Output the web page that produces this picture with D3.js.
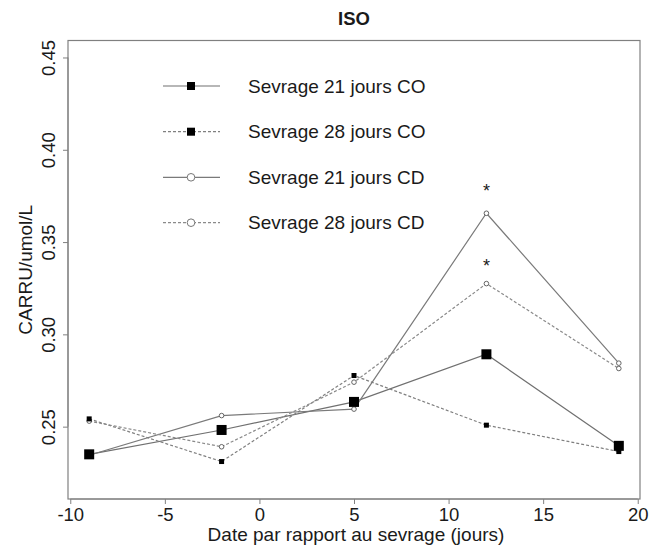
<!DOCTYPE html>
<html>
<head>
<meta charset="utf-8">
<script src="https://cdn.jsdelivr.net/npm/d3@7"></script>
<style>
  body { margin: 0; background: #fff; }
  svg text { font-family: "Liberation Sans", Arial, sans-serif; fill: #1a1a1a; }
</style>
</head>
<body>
<div id="content"></div>
<script>
var w = 658;
var h = 547;

// days relative to weaning
var days = [-9, -2, 5, 12, 19];

var s21CO = [0.2350, 0.2482, 0.2634, 0.2892, 0.2396];
var s28CO = [0.2542, 0.2311, 0.2777, 0.2508, 0.2365];
var s21CD = [0.2345, 0.2560, 0.2595, 0.3656, 0.2844];
var s28CD = [0.2530, 0.2391, 0.2741, 0.3275, 0.2815];

var seriesNames = ["Sevrage 21 jours CO", "Sevrage 28 jours CO", "Sevrage 21 jours CD", "Sevrage 28 jours CD"];

// significance stars at day 12
var starDays = [12, 12];
var starVals = [0.3797, 0.3394];

var xTicks = [-10, -5, 0, 5, 10, 15, 20];
var yTicks = [0.25, 0.30, 0.35, 0.40, 0.45];

var series = [
    { name: seriesNames[0], values: s21CO, dash: null, shape: "square", size: 10, lineColor: "#707070" },
    { name: seriesNames[1], values: s28CO, dash: "3,2", shape: "square", size: 5, lineColor: "#808080" },
    { name: seriesNames[2], values: s21CD, dash: null, shape: "circle", size: 2.3, lineColor: "#7a7a7a" },
    { name: seriesNames[3], values: s28CD, dash: "3,2", shape: "circle", size: 2.3, lineColor: "#8a8a8a" }
];

// R style: limits extended 4%
var x = d3.scaleLinear().domain([-10.12, 20.12]).range([68, 640]);
var y = d3.scaleLinear().domain([0.2108, 0.4592]).range([499, 40.5]);

var svg = d3.select("div#content").append("svg")
    .attr("width", w)
    .attr("height", h);

// box
svg.append("rect")
    .attr("x", x.range()[0]).attr("y", y.range()[1])
    .attr("width", x.range()[1] - x.range()[0])
    .attr("height", y.range()[0] - y.range()[1])
    .attr("fill", "none").attr("stroke", "#808080").attr("stroke-width", 1.2);

// axes
var xAxis = svg.append("g")
    .attr("transform", "translate(0," + y.range()[0] + ")")
    .call(d3.axisBottom(x).tickValues(xTicks).tickFormat(d => String(d)).tickSize(5).tickPadding(4).tickSizeOuter(0));
xAxis.select(".domain").attr("stroke", "#808080").attr("d", "M" + x(-10) + ",0H" + x(20));
xAxis.selectAll(".tick line").attr("stroke", "#808080");
xAxis.selectAll(".tick text").style("font-size", "18.5px").attr("fill", "#1a1a1a")
    .attr("font-family", "Liberation Sans, Arial, sans-serif");

var yAxis = svg.append("g")
    .attr("transform", "translate(" + x.range()[0] + ",0)")
    .call(d3.axisLeft(y).tickValues(yTicks).tickFormat(d3.format(".2f")).tickSize(5).tickSizeOuter(0));
yAxis.select(".domain").attr("stroke", "#808080").attr("d", "M0," + y(0.25) + "V" + y(0.45));
yAxis.selectAll(".tick line").attr("stroke", "#808080");
yAxis.selectAll(".tick text")
    .style("font-size", "18.5px").attr("fill", "#1a1a1a")
    .attr("font-family", "Liberation Sans, Arial, sans-serif")
    .attr("x", null).attr("dy", null)
    .attr("text-anchor", "middle")
    .attr("transform", "translate(-13,0) rotate(-90)");

// titles
svg.append("text")
    .attr("x", 354).attr("y", 25)
    .attr("text-anchor", "middle")
    .style("font-size", "18.5px").style("font-weight", "bold")
    .text("ISO");

svg.append("text")
    .attr("x", 356).attr("y", 541)
    .attr("text-anchor", "middle")
    .style("font-size", "19px")
    .text("Date par rapport au sevrage (jours)");

svg.append("text")
    .attr("transform", "translate(32," + ((y.range()[0] + y.range()[1]) / 2) + ") rotate(-90)")
    .attr("text-anchor", "middle")
    .style("font-size", "19px")
    .text("CARRU/umol/L");

// lines
var line = d3.line()
    .x((d, i) => x(days[i]))
    .y(d => y(d));

var g = svg.append("g");

series.forEach(function (s) {
    g.append("path")
        .datum(s.values)
        .attr("d", line)
        .attr("fill", "none")
        .attr("stroke", s.lineColor)
        .attr("stroke-width", 1.2)
        .attr("stroke-dasharray", s.dash);
});

// points
function drawMarker(sel, s, cx, cy, size) {
    if (s.shape === "square") {
        sel.append("rect")
            .attr("x", cx - size / 2).attr("y", cy - size / 2)
            .attr("width", size).attr("height", size)
            .attr("fill", "#000");
    } else {
        sel.append("circle")
            .attr("cx", cx).attr("cy", cy).attr("r", size)
            .attr("fill", "#fff").attr("stroke", "#555").attr("stroke-width", 0.9);
    }
}

series.slice().reverse().forEach(function (s) {
    s.values.forEach(function (v, i) {
        drawMarker(g, s, x(days[i]), y(v), s.size);
    });
});

// stars
g.selectAll("text.star")
    .data(starVals)
    .enter().append("text")
    .attr("class", "star")
    .attr("x", (d, i) => x(starDays[i]))
    .attr("y", d => y(d) + 10)
    .attr("text-anchor", "middle")
    .style("font-size", "18px")
    .text("*");

// legend
var legend = svg.append("g");
var rowY = [86, 131.7, 177.3, 222.7];

series.forEach(function (s, i) {
    var row = legend.append("g");
    row.append("line")
        .attr("x1", 163).attr("x2", 220)
        .attr("y1", rowY[i]).attr("y2", rowY[i])
        .attr("stroke", s.lineColor)
        .attr("stroke-width", 1.2)
        .attr("stroke-dasharray", s.dash);
    if (s.shape === "square") {
        drawMarker(row, s, 191, rowY[i], 8);
    } else {
        row.append("circle")
            .attr("cx", 191).attr("cy", rowY[i]).attr("r", 3.8)
            .attr("fill", "#fff").attr("stroke", "#777").attr("stroke-width", 1);
    }
    row.append("text")
        .attr("x", 248).attr("y", rowY[i] + 6.5)
        .style("font-size", "19px")
        .text(s.name);
});
</script>
</body>
</html>
